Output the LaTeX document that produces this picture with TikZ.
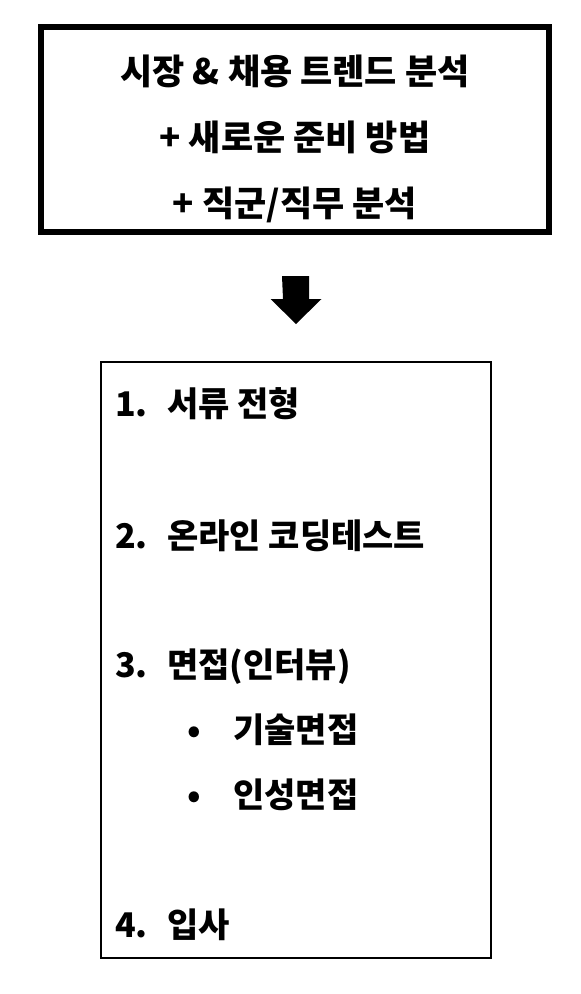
\documentclass[tikz,border=0pt]{standalone}
\usepackage{fontspec}
\setmainfont{Noto Sans CJK KR}
\usetikzlibrary{positioning}

\tikzset{
  trendbox/.style={draw, line width=5.5pt, minimum width=508pt, minimum height=205pt},
  trendtext/.style={align=center, inner sep=0pt, font=\fontsize{35}{66}\selectfont\bfseries},
  stepsbox/.style={draw, line width=1.5pt, minimum width=390pt, minimum height=596pt},
  stepitem/.style={anchor=west, inner sep=0pt, text height=28.6pt, text depth=2.7pt, font=\fontsize{34}{40}\selectfont\bfseries},
}
\newcommand{\numlabel}[1]{\makebox[52pt][l]{#1}}
\newcommand{\bulletlabel}{\makebox[45pt][l]{\makebox[12pt]{•}}}

\begin{document}
\begin{tikzpicture}[x=1pt,y=-1pt]
\useasboundingbox (0,0) rectangle (581,994);
% top box
\node at (295,129.5) [trendbox] (trend) {};
\node at (295,139) [trendtext] (trendtxt) {시장 \& 채용 트렌드 분석\\+ 새로운 준비 방법\\+ 직군/직무 분석};
% big arrow
\coordinate (arrtop) at (295.5,276);
\fill (arrtop) ++(-13.5,0) -- ++(27,0) -- ++(0,23) -- ++(12.5,0) -- ++(-25.5,25) -- ++(-25.5,-25) -- ++(12.5,0) -- cycle;
% steps
\node at (296,660) [stepsbox] (steps) {};
\node at (115,404) [stepitem] (s1) {\numlabel{1.}서류 전형};
\node at (115,536) [stepitem] (s2) {\numlabel{2.}온라인 코딩테스트};
\node at (115,665) [stepitem] (s3) {\numlabel{3.}면접(인터뷰)};
\node at (188,730) [stepitem] (s3a) {\bulletlabel 기술면접};
\node at (188,795) [stepitem] (s3b) {\bulletlabel 인성면접};
\node at (115,925) [stepitem] (s4) {\numlabel{4.}입사};
\end{tikzpicture}
\end{document}
